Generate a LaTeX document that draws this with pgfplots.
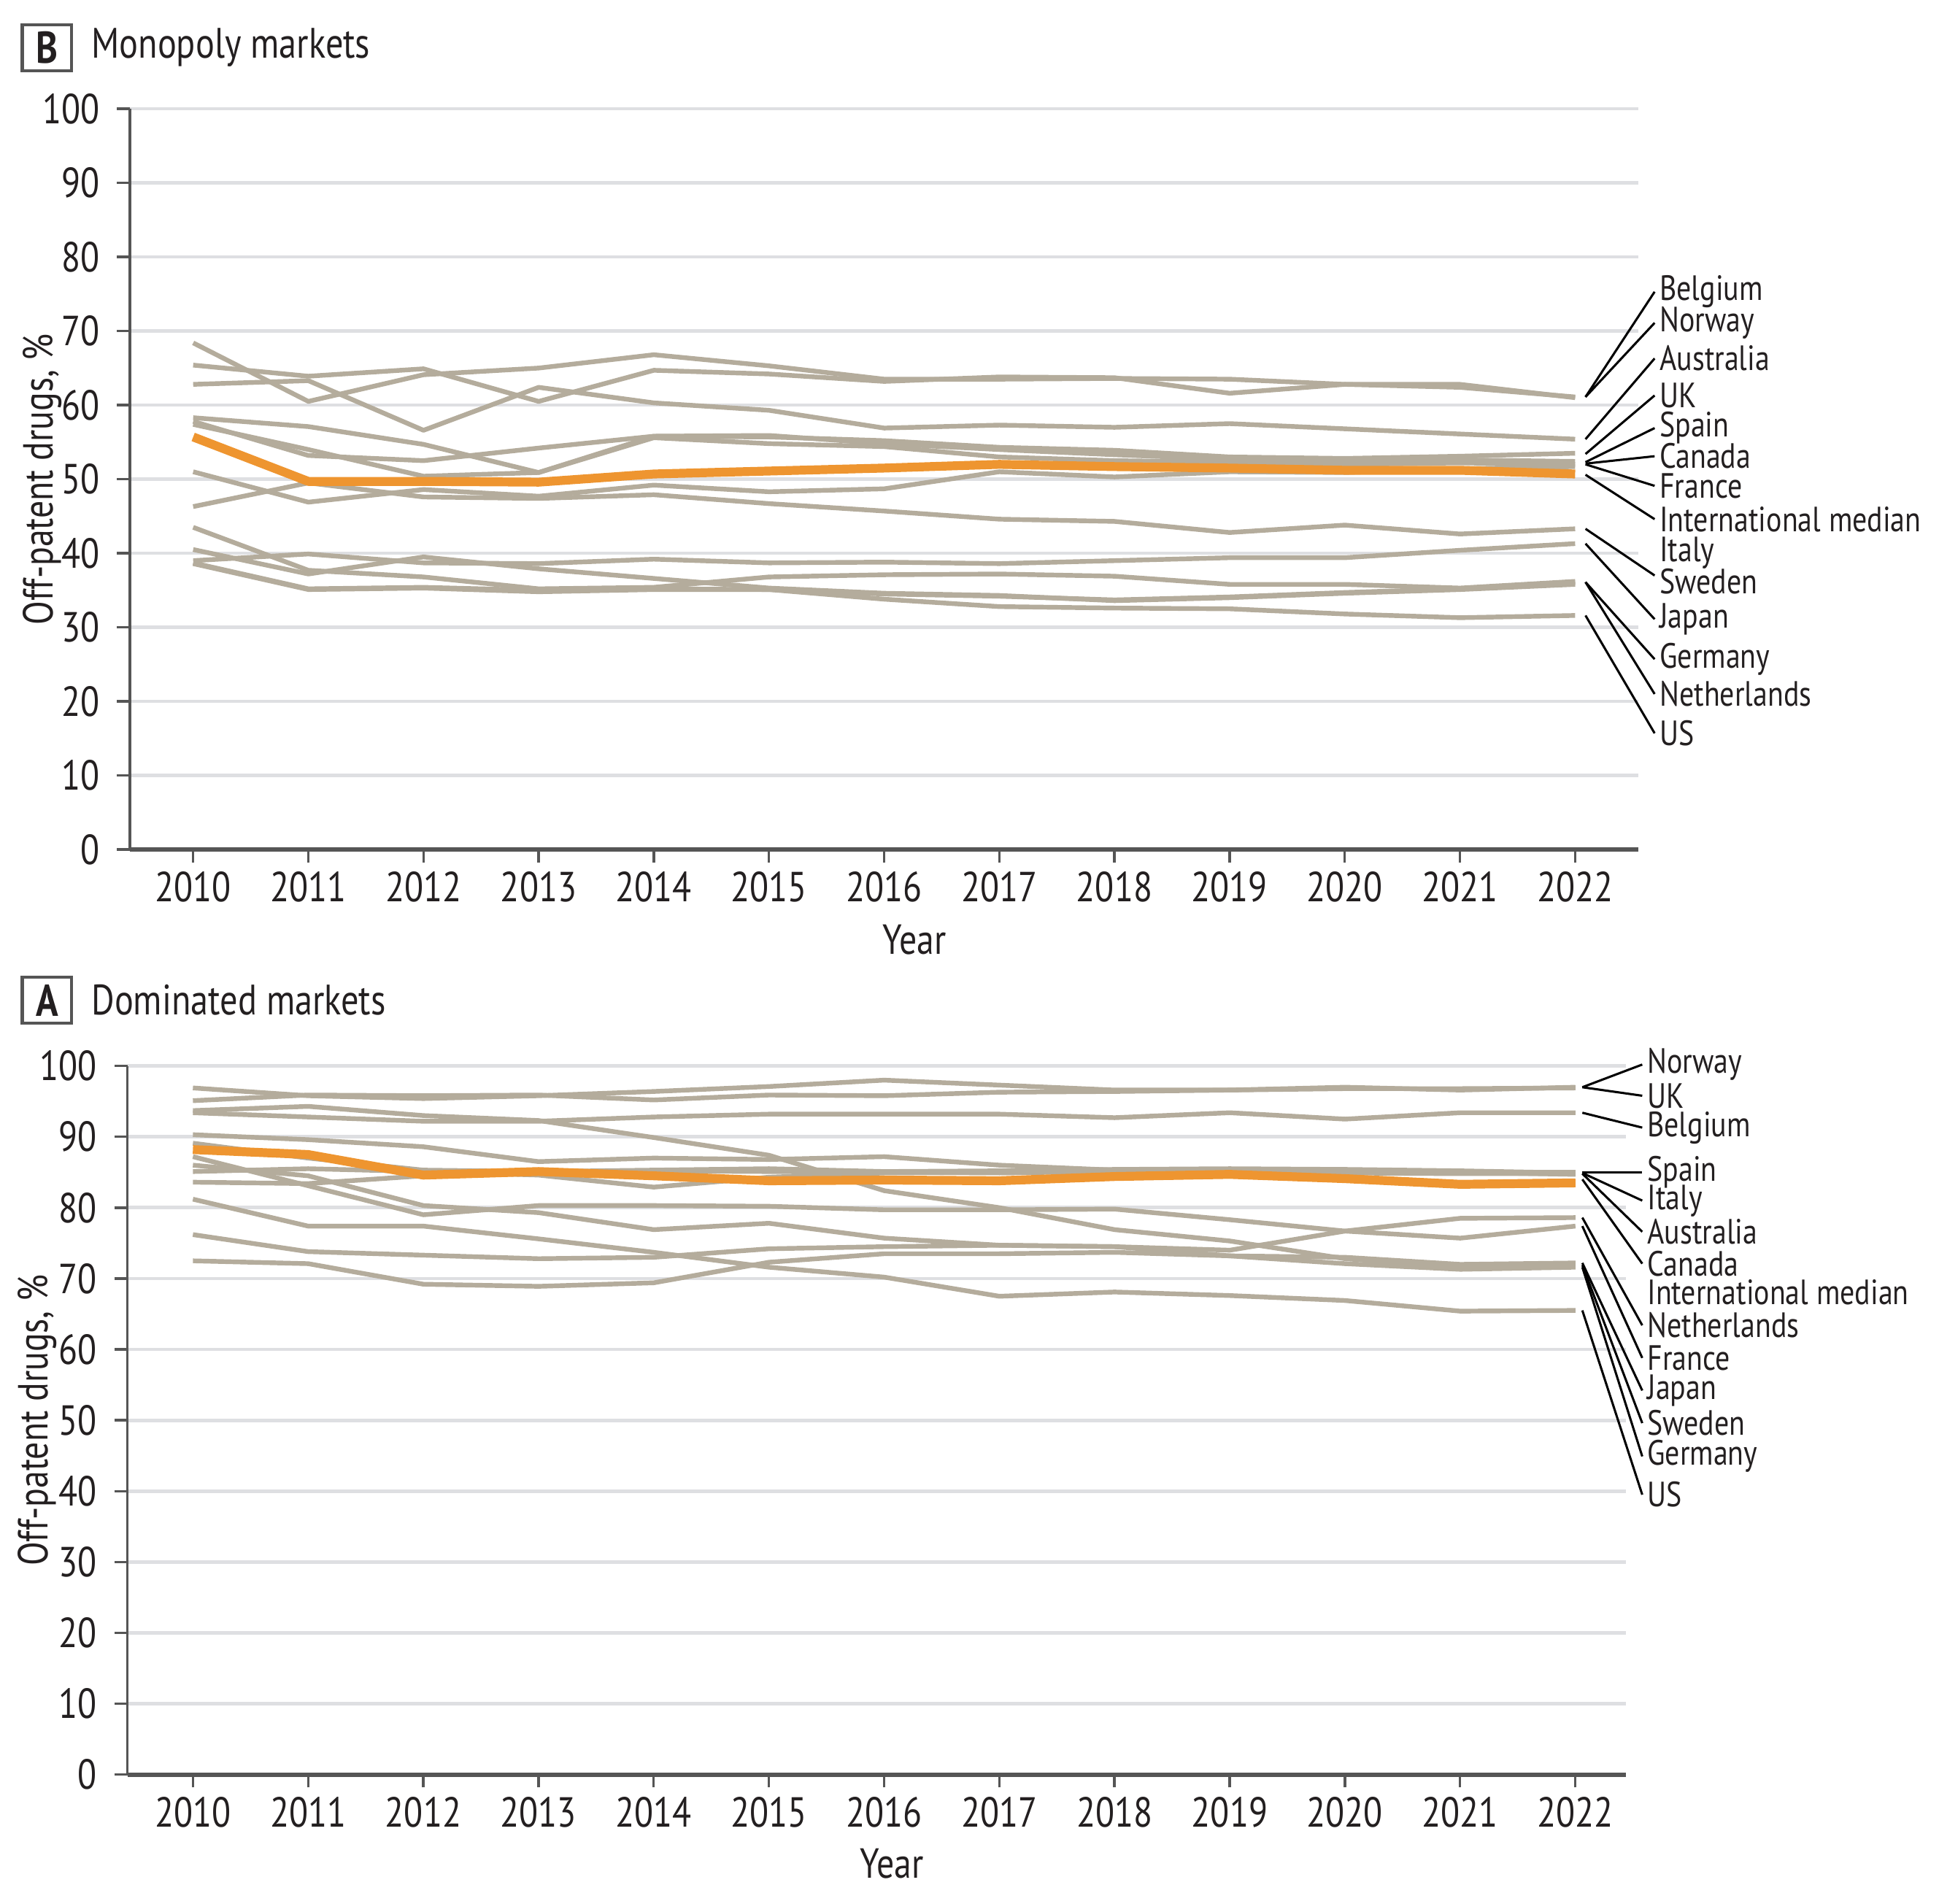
\documentclass[border=0pt]{standalone}
\usepackage{fontspec}
\setmainfont{PT Sans}[FakeStretch=0.83]
\usepackage{pgfplots}
\usepackage{pgfplotstable}
\pgfplotsset{compat=1.18}

\definecolor{lineGrey}{HTML}{B4AC9C}
\definecolor{medOrange}{HTML}{EE9530}
\definecolor{gridGrey}{HTML}{DEDFE2}
\definecolor{axisGrey}{HTML}{555555}
\definecolor{txt}{HTML}{231F20}

%% B: monopoly markets
\pgfplotstableread{
year Belgium Norway Australia UK Spain Canada France Italy Sweden Japan Germany Netherlands US Median
2010 68.4 65.4 62.8 58.3 57.8 57.4 51.0 46.3 39.0 43.5 40.5 38.7 38.6 55.7
2011 60.5 63.9 63.3 57.1 53.2 54.0 46.9 49.5 39.9 37.7 37.2 35.2 35.1 49.7
2012 64.1 64.9 56.6 54.7 52.5 50.4 48.6 47.6 38.7 36.8 39.5 35.4 35.3 49.7
2013 65.0 60.5 62.4 50.9 54.2 50.9 47.7 47.4 38.6 35.2 37.9 35.0 34.8 49.6
2014 66.8 64.7 60.3 55.8 55.8 55.6 49.2 47.9 39.2 35.4 36.6 35.2 35.1 50.7
2015 65.3 64.2 59.3 55.7 55.9 54.8 48.3 46.7 38.7 36.8 35.3 35.1 35.1 51.1
2016 63.5 63.2 56.9 55.2 54.8 54.4 48.7 45.7 38.8 37.1 34.6 34.5 33.8 51.5
2017 63.5 63.8 57.3 54.3 54.0 53.0 51.0 44.6 38.6 37.2 34.3 34.2 32.8 52.0
2018 63.6 63.7 57.0 53.9 53.3 52.5 50.3 44.3 39.0 36.9 33.6 33.7 32.6 51.7
2019 63.5 61.6 57.5 53.0 52.7 52.3 51.0 42.8 39.4 35.8 34.0 34.1 32.5 51.5
2020 62.8 62.8 56.8 52.8 52.4 52.0 50.9 43.8 39.4 35.8 34.6 34.7 31.8 51.2
2021 62.4 62.8 56.1 53.1 52.6 52.2 51.4 42.6 40.4 35.3 35.1 35.2 31.3 51.2
2022 61.1 61.0 55.4 53.5 52.4 52.0 51.7 43.3 41.3 36.2 35.8 36.0 31.6 50.7
}\monopoly

%% A: dominated markets
\pgfplotstableread{
year Norway UK Belgium Spain Italy Australia Canada Netherlands France Japan Sweden Germany US Median
2010 96.9 95.1 93.4 90.3 89.1 85.1 83.6 76.2 87.2 93.7 86.0 72.5 81.2 88.2
2011 95.8 95.9 92.8 89.6 87.0 85.5 83.4 73.8 83.1 94.3 84.5 72.1 77.4 87.5
2012 95.4 95.8 92.2 88.6 85.3 85.1 84.5 73.3 79.0 93.0 80.3 69.2 77.4 84.6
2013 95.8 95.9 92.2 86.5 85.1 84.6 85.0 72.8 80.3 92.3 79.3 68.9 75.6 85.1
2014 96.4 95.2 92.8 87.0 85.3 82.9 85.2 73.0 80.3 89.9 76.9 69.4 73.7 84.5
2015 97.1 95.9 93.2 86.8 85.5 84.3 85.1 74.2 80.2 87.4 77.8 72.3 71.6 83.8
2016 98.0 95.8 93.2 87.2 85.1 84.9 85.0 74.5 79.7 82.4 75.7 73.5 70.2 83.9
2017 97.3 96.3 93.2 86.0 85.2 85.0 84.9 74.7 79.7 80.0 74.7 73.5 67.5 83.8
2018 96.6 96.4 92.7 85.3 85.4 85.3 85.1 74.5 79.8 76.9 74.5 73.7 68.1 84.4
2019 96.6 96.6 93.4 85.1 85.5 85.2 85.0 74.0 78.3 75.3 73.2 73.2 67.6 84.7
2020 97.0 96.8 92.5 85.2 85.4 84.9 85.2 76.7 76.7 72.8 72.1 73.0 66.9 84.1
2021 96.6 96.8 93.4 85.0 85.2 84.8 85.0 78.5 75.7 71.6 71.3 72.0 65.4 83.3
2022 97.0 96.9 93.4 84.7 84.9 84.8 85.0 78.6 77.4 71.9 71.6 72.2 65.5 83.5
}\dominated

\tikzset{
  lab/.style={anchor=west, inner sep=0.6pt, text=txt, font=\fontsize{7.1}{8}\selectfont},
  lead/.style={black, line width=0.45pt},
}

\pgfplotsset{
  panel/.style={
    scale only axis,
    axis x line*=bottom, axis y line*=left,
    ymin=0, ymax=100, ytick={0,10,...,100},
    xtick={2010,...,2022},
    ymajorgrids, grid style={gridGrey, line width=0.7pt},
    x axis line style={-, axisGrey, line width=0.9pt},
    y axis line style={-, axisGrey, line width=0.5pt},
    tick style={axisGrey, line width=0.5pt},
    major tick length=2.6pt, tick align=outside,
    ticklabel style={font=\fontsize{8.5}{10}\selectfont, text=txt},
    xticklabel style={yshift=1.6pt},
    /pgf/number format/1000 sep={},
    /pgf/number format/assume math mode=true,
    label style={font=\fontsize{8.5}{10}\selectfont, text=txt},
    ylabel={Off-patent drugs, \%},
    xlabel={Year},
    clip=false,
  },
  country/.style={lineGrey, line width=0.95pt, line join=round},
  median/.style={medOrange, line width=1.8pt, line join=round},
}

\begin{document}
\begin{tikzpicture}
\path[use as bounding box] (0,0) rectangle (392pt,-384.9pt);

%% panel B title
\draw[axisGrey, line width=0.6pt] (4.5pt,-5pt) rectangle (14.5pt,-14.3pt);
\node[font=\bfseries\fontsize{9}{10}\selectfont, text=txt] at (9.5pt,-9.65pt) {B};
\node[anchor=west, inner sep=0pt, font=\fontsize{8.6}{10}\selectfont, text=txt] at (18.3pt,-9.65pt) {Monopoly markets};

\begin{axis}[panel,
    at={(26.25pt,-171.75pt)}, anchor=south west,
    width=305pt, height=149.75pt,
    xmin=2009.45, xmax=2022.55,
    xlabel style={at={(axis description cs:0.52,-0.122)}, anchor=center},
    ylabel style={at={(axis description cs:-0.058,0.5)}, anchor=center},
]
\foreach \c in {Belgium,Norway,Australia,UK,Spain,Canada,France,Italy,Sweden,Japan,Germany,Netherlands,US}{
  \addplot[country] table[x=year, y=\c] {\monopoly};
}
\addplot[median] table[x=year, y=Median] {\monopoly};

\draw[lead] (axis cs:2022.09,61.1) -- (axis cs:2022.69,75.3);
\draw[lead] (axis cs:2022.09,61.1) -- (axis cs:2022.69,71.1);
\draw[lead] (axis cs:2022.09,55.4) -- (axis cs:2022.69,66.3);
\draw[lead] (axis cs:2022.09,53.4) -- (axis cs:2022.69,61.3);
\draw[lead] (axis cs:2022.09,52.3) -- (axis cs:2022.69,56.9);
\draw[lead] (axis cs:2022.09,52.1) -- (axis cs:2022.69,53.1);
\draw[lead] (axis cs:2022.09,52.0) -- (axis cs:2022.69,49.1);
\draw[lead] (axis cs:2022.09,50.6) -- (axis cs:2022.69,44.6);
\draw[lead] (axis cs:2022.09,43.3) -- (axis cs:2022.69,37.0);
\draw[lead] (axis cs:2022.09,41.3) -- (axis cs:2022.69,31.1);
\draw[lead] (axis cs:2022.09,36.1) -- (axis cs:2022.69,25.7);
\draw[lead] (axis cs:2022.09,36.1) -- (axis cs:2022.69,21.0);
\draw[lead] (axis cs:2022.09,31.6) -- (axis cs:2022.69,15.7);

\node[lab] at (axis cs:2022.70,75.3) {Belgium};
\node[lab] at (axis cs:2022.70,71.1) {Norway};
\node[lab] at (axis cs:2022.70,66.3) {Australia};
\node[lab] at (axis cs:2022.70,61.3) {UK};
\node[lab] at (axis cs:2022.70,56.9) {Spain};
\node[lab] at (axis cs:2022.70,53.1) {Canada};
\node[lab] at (axis cs:2022.70,49.1) {France};
\node[lab] at (axis cs:2022.70,44.6) {International median};
\node[lab] at (axis cs:2022.70,40.1) {Italy};
\node[lab] at (axis cs:2022.70,36.2) {Sweden};
\node[lab] at (axis cs:2022.70,31.1) {Japan};
\node[lab] at (axis cs:2022.70,25.7) {Germany};
\node[lab] at (axis cs:2022.70,21.0) {Netherlands};
\node[lab] at (axis cs:2022.70,15.7) {US};
\end{axis}

%% panel A title
\draw[axisGrey, line width=0.6pt] (4.5pt,-197.5pt) rectangle (14.5pt,-206.9pt);
\node[font=\bfseries\fontsize{9}{10}\selectfont, text=txt] at (9.5pt,-202.2pt) {A};
\node[anchor=west, inner sep=0pt, font=\fontsize{8.6}{10}\selectfont, text=txt] at (18.3pt,-202.2pt) {Dominated markets};

\begin{axis}[panel,
    at={(25.75pt,-358.75pt)}, anchor=south west,
    width=303pt, height=143.25pt,
    xmin=2009.431, xmax=2022.44,
    xlabel style={at={(axis description cs:0.51,-0.126)}, anchor=center},
    ylabel style={at={(axis description cs:-0.06,0.5)}, anchor=center},
]
\foreach \c in {Norway,UK,Belgium,Spain,Italy,Australia,Canada,Netherlands,France,Japan,Sweden,Germany,US}{
  \addplot[country] table[x=year, y=\c] {\dominated};
}
\addplot[median] table[x=year, y=Median] {\dominated};

\draw[lead] (axis cs:2022.06,97.0) -- (axis cs:2022.58,100.2);
\draw[lead] (axis cs:2022.06,97.0) -- (axis cs:2022.58,95.8);
\draw[lead] (axis cs:2022.06,93.4) -- (axis cs:2022.58,91.3);
\draw[lead] (axis cs:2022.06,85.0) -- (axis cs:2022.58,85.0);
\draw[lead] (axis cs:2022.06,84.9) -- (axis cs:2022.58,81.0);
\draw[lead] (axis cs:2022.06,84.8) -- (axis cs:2022.58,76.6);
\draw[lead] (axis cs:2022.06,84.0) -- (axis cs:2022.58,72.1);
\draw[lead] (axis cs:2022.06,78.6) -- (axis cs:2022.58,63.4);
\draw[lead] (axis cs:2022.06,77.4) -- (axis cs:2022.58,58.8);
\draw[lead] (axis cs:2022.06,72.2) -- (axis cs:2022.58,54.2);
\draw[lead] (axis cs:2022.06,71.9) -- (axis cs:2022.58,49.6);
\draw[lead] (axis cs:2022.06,71.6) -- (axis cs:2022.58,44.9);
\draw[lead] (axis cs:2022.06,65.5) -- (axis cs:2022.58,39.5);

\node[lab] at (axis cs:2022.59,100.2) {Norway};
\node[lab] at (axis cs:2022.59,95.8) {UK};
\node[lab] at (axis cs:2022.59,91.3) {Belgium};
\node[lab] at (axis cs:2022.59,85.0) {Spain};
\node[lab] at (axis cs:2022.59,81.0) {Italy};
\node[lab] at (axis cs:2022.59,76.6) {Australia};
\node[lab] at (axis cs:2022.59,72.1) {Canada};
\node[lab] at (axis cs:2022.59,68.1) {International median};
\node[lab] at (axis cs:2022.59,63.4) {Netherlands};
\node[lab] at (axis cs:2022.59,58.8) {France};
\node[lab] at (axis cs:2022.59,54.2) {Japan};
\node[lab] at (axis cs:2022.59,49.6) {Sweden};
\node[lab] at (axis cs:2022.59,44.9) {Germany};
\node[lab] at (axis cs:2022.59,39.5) {US};
\end{axis}
\end{tikzpicture}
\end{document}
